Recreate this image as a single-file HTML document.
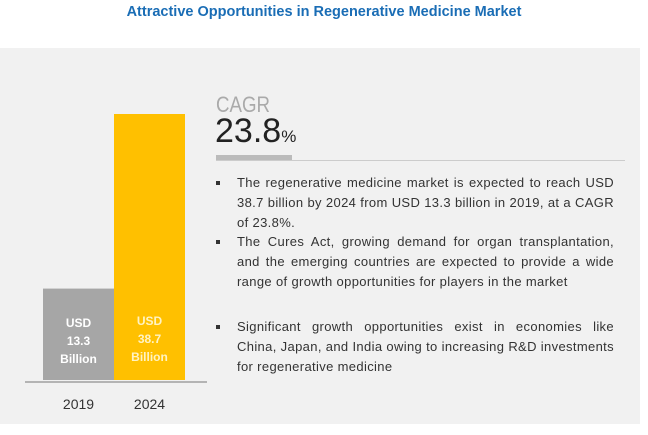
<!DOCTYPE html>
<html><head><meta charset="utf-8"><style>
body{margin:0;width:648px;height:435px;background:#fff;font-family:"Liberation Sans",sans-serif;position:relative;overflow:hidden}
.abs{position:absolute}
#title{left:0;width:648px;top:4px;text-align:center;color:#1a6db5;font-weight:bold;font-size:14.5px}
#panel{left:0;top:48px;width:640px;height:376px;background:#f1f1f1}
.bul{left:216px;width:398px;font-size:13px;color:#333;line-height:20px;text-align:justify;letter-spacing:0.35px}
.bul span.sq{position:absolute;left:0;top:8px;width:4px;height:4px;background:#333}
.bul div{margin-left:21px}
</style></head><body>
<div class="abs" id="title">Attractive Opportunities in Regenerative Medicine Market</div>
<div class="abs" id="panel"></div>
<svg class="abs" style="left:0;top:0" width="648" height="435" id="chart"></svg>
<div class="abs" style="left:216px;top:92px;font-size:22px;color:#aaa;transform:scaleX(0.85);transform-origin:left">CAGR</div>
<div class="abs" style="left:215px;top:112px;font-size:34px;color:#222">23.8<span style="font-size:17px">%</span></div>
<div class="abs" style="left:216px;top:160px;width:409px;height:1px;background:#ccc"></div>
<div class="abs" style="left:216px;top:155px;width:76px;height:5px;background:#bbb"></div>
<div class="abs bul" style="top:173px"><span class="sq"></span><div>The regenerative medicine market is expected to reach USD 38.7 billion by 2024 from USD 13.3 billion in 2019, at a CAGR of 23.8%.</div></div>
<div class="abs bul" style="top:232px"><span class="sq"></span><div>The Cures Act, growing demand for organ transplantation, and the emerging countries are expected to provide a wide range of growth opportunities for players in the market</div></div>
<div class="abs bul" style="top:317px"><span class="sq"></span><div>Significant growth opportunities exist in economies like China, Japan, and India owing to increasing R&amp;D investments for regenerative medicine</div></div>
<script>
const categories=["2019","2024"];
const values=[13.3,38.7];
const labels=[["USD","13.3","Billion"],["USD","38.7","Billion"]];
const colors=["#a6a6a6","#ffc000"];
const svg=document.getElementById('chart');const NS="http://www.w3.org/2000/svg";
const base=380,scale=266/38.7,x0=43,bw=71;
function y(v){return base-v*scale;}
function mk(t,a){const e=document.createElementNS(NS,t);for(const k in a)e.setAttribute(k,a[k]);svg.appendChild(e);return e;}
categories.forEach((c,i)=>{
 const r=mk('rect',{x:x0+i*bw,y:y(values[i]),width:bw,height:base-y(values[i]),fill:colors[i]});
 
 
 labels[i].forEach((s,j)=>{
  const t=mk('text',{x:x0+i*bw+bw/2,y:327+j*18-(i?2:0),'text-anchor':'middle','font-size':'12',fill:i?'#fff3c4':'#fff','font-weight':'bold'});
  t.textContent=s;
  
  
 });
 const yl=mk('text',{x:x0+i*bw+bw/2,y:409,'text-anchor':'middle','font-size':'14',fill:'#333'});
 yl.textContent=c;
 
 
});
const ax=mk('line',{x1:25,x2:207,y1:382,y2:382,stroke:'#777','stroke-width':1});


</script>
</body></html>
